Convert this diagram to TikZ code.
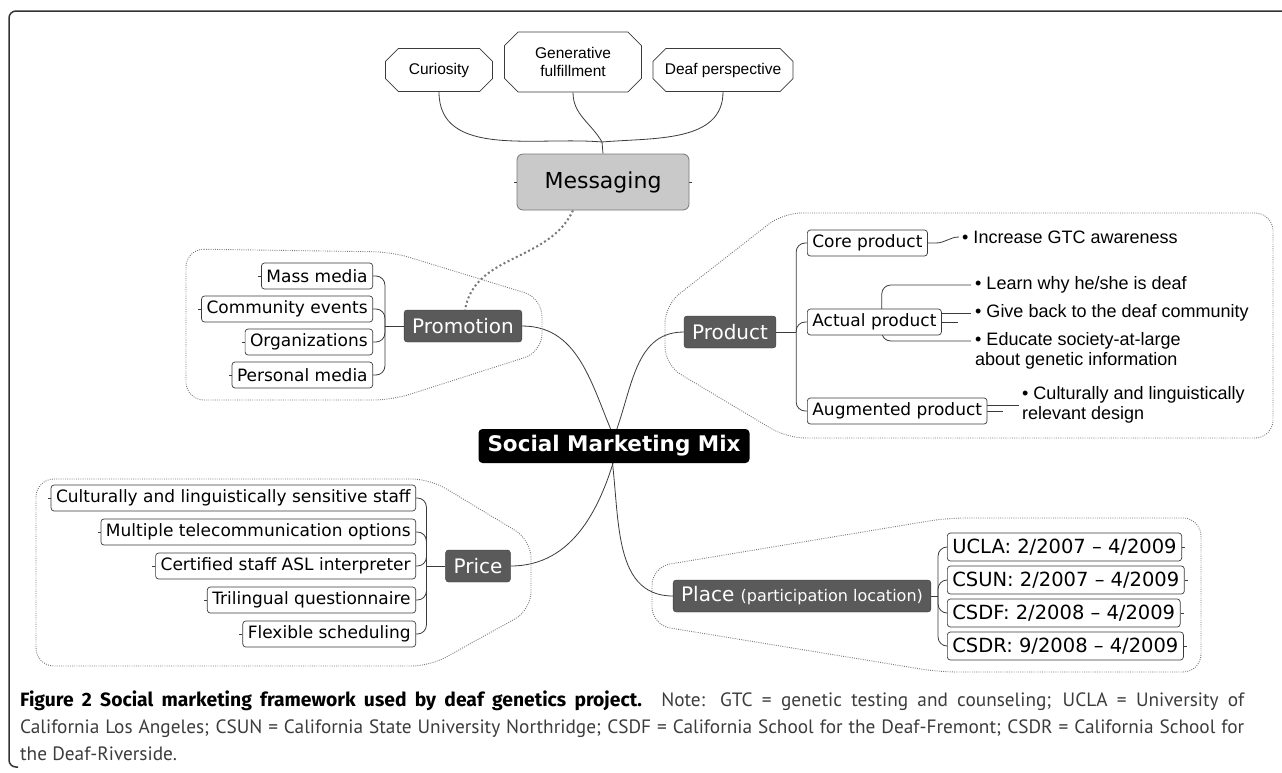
\documentclass[tikz,border=0pt]{standalone}
\usepackage{fontspec}
\setmainfont{DejaVu Sans}
\newfontfamily\notefont{Liberation Sans}
\newfontfamily\capfont{PT Sans}
\newfontfamily\capboldfont{Fira Sans}
\usetikzlibrary{positioning,shapes.misc}
\definecolor{branchgray}{HTML}{5A5A5A}
\definecolor{msggray}{HTML}{C9C9C9}
\definecolor{linkgray}{HTML}{3A3A3A}
\definecolor{groupgray}{HTML}{777777}
\definecolor{framegray}{HTML}{333333}
\definecolor{captext}{HTML}{3C3C3C}
\pgfdeclarelayer{bg}
\pgfsetlayers{bg,main}
\tikzset{
  mixnode/.style={fill=black,text=white,rounded corners=4pt,inner xsep=9pt,
    minimum height=34pt,font=\bfseries\fontsize{21.5}{24}\selectfont},
  branch/.style={fill=branchgray,draw=linkgray,text=white,rounded corners=3pt,
    minimum height=32pt,inner xsep=8pt,font=\fontsize{20}{22}\selectfont},
  msgnode/.style={fill=msggray,draw=groupgray,line width=0.8pt,rounded corners=6pt,
    minimum width=172pt,minimum height=56pt,font=\fontsize{22}{24}\selectfont},
  leaf/.style={draw=linkgray,fill=white,line width=0.7pt,rounded corners=3pt,
    minimum height=26pt,inner xsep=5pt,inner ysep=0pt,font=\fontsize{17}{19}\selectfont},
  siteleaf/.style={leaf,minimum height=28pt,font=\fontsize{19.5}{21}\selectfont},
  idea/.style={chamfered rectangle,chamfered rectangle xsep=10pt,draw=linkgray,fill=white,
    line width=0.7pt,align=center,minimum height=43pt,inner sep=2pt,
    font=\notefont\fontsize{15.5}{18}\selectfont},
  bullet/.style={anchor=west,align=left,inner sep=0pt,
    font=\notefont\fontsize{18}{20}\selectfont},
  link/.style={draw=linkgray,line width=0.8pt},
  bracket/.style={link,rounded corners=9pt},
  groupline/.style={draw=groupgray,line width=0.9pt,dash pattern=on 0.9pt off 1.3pt,rounded corners=18pt},
  msglink/.style={draw=groupgray,line width=2pt,dash pattern=on 2pt off 2.6pt},
  frameline/.style={draw=framegray,line width=1.5pt,rounded corners=7pt},
  caption/.style={anchor=base west,align=justify,text width=1224pt,inner sep=0pt,text=captext,
    font=\capfont\fontsize{19.3}{27}\selectfont}
}

\begin{document}
\begin{tikzpicture}[x=1pt,y=1pt]
\useasboundingbox (0,0) rectangle (1282,-772);
\draw[frameline] (1282,-11) -- (9,-11) -- (9,-767) -- (18,-767);

\node[mixnode] (mix) at (614,-446) {Social Marketing Mix};
\node[branch] (promo) at (463,-326) {Promotion};
\node[branch] (product) at (730,-332) {Product};
\node[branch] (price) at (478,-566) {Price};
\node[branch] (place) at (802,-596) {Place {\fontsize{16}{18}\selectfont (participation location)}};

\node[msgnode] (msg) at (603,-182) {Messaging};
\node[idea,minimum width=107pt] (curiosity) at (439,-70) {Curiosity};
\node[idea,minimum width=137pt,minimum height=60pt] (generative) at (573,-62) {Generative\\fulfillment};
\node[idea,minimum width=140pt] (deaf) at (723,-70) {Deaf perspective};
\coordinate (msgj) at (602,-142);

\node[leaf,anchor=east] (mass) at (373,-276) {Mass media};
\node[leaf,anchor=east] (events) at (373,-309) {Community events};
\node[leaf,anchor=east] (orgs) at (373,-342) {Organizations};
\node[leaf,anchor=east] (personal) at (373,-375) {Personal media};
\coordinate (promoj) at ([xshift=-19pt]promo.west);

\node[leaf,anchor=west] (core) at (807,-243) {Core product};
\node[leaf,anchor=west] (actual) at (807,-322) {Actual product};
\node[leaf,anchor=west] (augmented) at (807,-411) {Augmented product};
\coordinate (prodj) at ([xshift=20pt]product.east);
\node[bullet] (gtc) at (962,-237) {• Increase GTC awareness};
\node[bullet] (learn) at (975,-285) {• Learn why he/she is deaf};
\node[bullet] (giveback) at (975,-313) {• Give back to the deaf community};
\node[bullet] (educate) at (975,-351) {• Educate society-at-large\\about genetic information};
\node[bullet] (relevant) at (1022,-405) {• Culturally and linguistically\\relevant design};

\node[leaf,anchor=east] (staff) at (416,-498) {Culturally and linguistically sensitive staff};
\node[leaf,anchor=east] (telecom) at (416,-532) {Multiple telecommunication options};
\node[leaf,anchor=east] (asl) at (416,-566) {Certified staff ASL interpreter};
\node[leaf,anchor=east] (trilingual) at (416,-600) {Trilingual questionnaire};
\node[leaf,anchor=east] (flexible) at (416,-634) {Flexible scheduling};
\coordinate (pricej) at ([xshift=-19pt]price.west);

\node[siteleaf,anchor=west] (ucla) at (947,-547) {UCLA: 2/2007 – 4/2009};
\node[siteleaf,anchor=west] (csun) at (947,-580) {CSUN: 2/2007 – 4/2009};
\node[siteleaf,anchor=west] (csdf) at (947,-613) {CSDF: 2/2008 – 4/2009};
\node[siteleaf,anchor=west] (csdr) at (947,-646) {CSDR: 9/2008 – 4/2009};
\coordinate (placej) at ([xshift=7pt]place.east);

\draw[groupline] (186,-249) -- (392,-252) -- (542,-298) -- (542,-352) -- (392,-400) -- (186,-400) -- cycle;
\draw[groupline] (783,-213) -- (1273,-213) -- (1273,-438) -- (787,-438) -- (665,-365) -- (665,-305) -- cycle;
\draw[groupline] (36,-479) -- (430,-479) -- (531,-540) -- (531,-610) -- (430,-666) -- (36,-666) -- cycle;
\draw[groupline] (947,-518) -- (1201,-518) -- (1201,-672) -- (939,-672) -- (652,-625) -- (652,-567) -- cycle;

\begin{pgfonlayer}{bg}
\draw[link] (curiosity.south) to[out=-90,in=175] (msgj);
\draw[link] (generative.south) to[out=-90,in=120] (msgj);
\draw[link] (deaf.south) to[out=-90,in=5] (msgj);
\draw[link] (msgj) -- (msg.north);
\draw[link] (msg.west) -- ++(-3pt,0);
\draw[link] (msg.east) -- ++(3pt,0);
\draw[msglink] ([xshift=-30pt]msg.south) to[out=-115,in=80] ([xshift=2pt]promo.north);

\draw[link] (promo.east) to[out=0,in=115] ([xshift=4pt]mix.center);
\draw[link] (product.west) to[out=180,in=65] ([xshift=-4pt]mix.center);
\draw[link] ([xshift=4pt]mix.center) to[out=-105,in=0] (price.east);
\draw[link] ([xshift=-4pt]mix.center) to[out=-80,in=180] (place.west);

\draw[link] (promo.west) -- (promoj);
\foreach \n in {mass,events,orgs,personal}{
  \draw[bracket] (promoj) |- (\n.east);
  \draw[link] (\n.west) -- ++(-3pt,0);
}

\draw[link] (product.east) -- (prodj);
\foreach \n in {core,actual,augmented}
  \draw[bracket] (prodj) |- (\n.west);
\draw[link] (core.east) -- ++(8pt,0) to[out=0,in=180] ([xshift=-3pt]gtc.west);
\draw[bracket] ([xshift=-60pt]actual.east) |- ([xshift=-4pt]learn.west);
\draw[link] (actual.east |- giveback.west) -- ([xshift=-4pt]giveback.west);
\draw[link] (actual.east) -- ++(16pt,0);
\draw[bracket] ([xshift=-60pt]actual.east) |- ([xshift=-4pt,yshift=10pt]educate.west);
\draw[link] ([yshift=6pt]augmented.east) -- ([xshift=-3pt]relevant.west);
\draw[link] (augmented.east) -- ++(16pt,0);

\draw[link] (price.west) -- (pricej);
\foreach \n in {staff,telecom,asl,trilingual,flexible}{
  \draw[bracket] (pricej) |- (\n.east);
  \draw[link] (\n.west) -- ++(-3pt,0);
}

\draw[link] (place.east) -- (placej);
\foreach \n in {ucla,csun,csdf,csdr}{
  \draw[bracket] (placej) |- (\n.west);
  \draw[link] (\n.east) -- ++(3pt,0);
}
\end{pgfonlayer}

\node[caption] (cap) at (20,-706) {{\capboldfont\bfseries\color{black}Figure 2 Social marketing framework used by deaf genetics project.} Note: GTC = genetic testing and counseling; UCLA = University of\linebreak
California Los Angeles; CSUN = California State University Northridge; CSDF = California School for the Deaf-Fremont; CSDR = California School for\linebreak
the Deaf-Riverside.};
\end{tikzpicture}
\end{document}
